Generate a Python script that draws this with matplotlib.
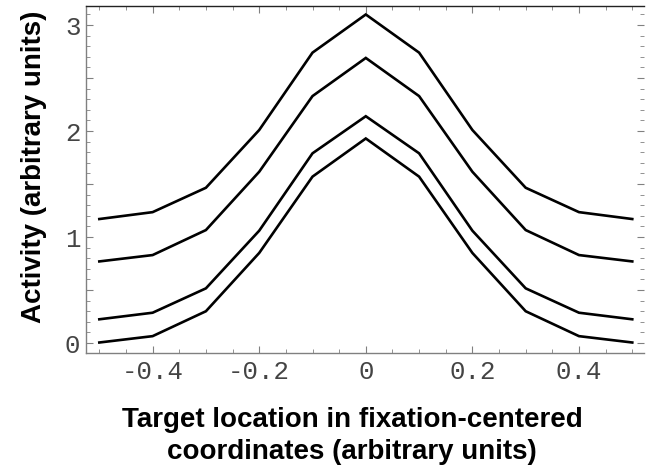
import matplotlib
matplotlib.use("Agg")
import matplotlib.pyplot as plt
from matplotlib.ticker import MultipleLocator, FuncFormatter

x = [-0.5, -0.4, -0.3, -0.2, -0.1, 0.0, 0.1, 0.2, 0.3, 0.4, 0.5]
curve1 = [1.17, 1.235, 1.465, 2.01, 2.74, 3.10, 2.74, 2.01, 1.465, 1.235, 1.17]
curve2 = [0.77, 0.83, 1.066, 1.616, 2.33, 2.69, 2.33, 1.616, 1.066, 0.83, 0.77]
curve3 = [0.224, 0.286, 0.516, 1.06, 1.79, 2.14, 1.79, 1.06, 0.516, 0.286, 0.224]
curve4 = [0.005, 0.065, 0.30, 0.85, 1.57, 1.93, 1.57, 0.85, 0.30, 0.065, 0.005]
xticks = [-0.4, -0.2, 0, 0.2, 0.4]
xticklabels = ["-0.4", "-0.2", "0", "0.2", "0.4"]
yticks = [0, 1, 2, 3]

fig = plt.figure(figsize=(6.53, 4.74), dpi=100)
ax = fig.add_axes([86/653, 1-353/474, (644-86)/653, (353-6)/474])

for c in (curve1, curve2, curve3, curve4):
    ax.plot(x, c, color="black", lw=1.9, solid_joinstyle="miter")

ax.set_xlim(-0.525, 0.522)
ax.set_ylim(-0.094, 3.18)

grey = "#808080"
ax.spines["left"].set_color(grey)
ax.spines["bottom"].set_color(grey)
ax.spines["top"].set_color("#222222")
ax.spines["right"].set_visible(False)
for s in ax.spines.values():
    s.set_linewidth(1.0)

ax.set_xticks(xticks)
ax.set_xticklabels(xticklabels)
ax.xaxis.set_minor_locator(MultipleLocator(0.05))
ax.yaxis.set_major_locator(MultipleLocator(0.5))
ax.yaxis.set_minor_locator(MultipleLocator(0.1))
ax.yaxis.set_major_formatter(FuncFormatter(lambda v, p: f"{int(round(v))}" if abs(v - round(v)) < 1e-6 and round(v) in yticks else ""))

ax.tick_params(which="both", direction="in", colors=grey, top=True, right=True,
               labelcolor="#444444", labelsize=18.5)
ax.tick_params(which="major", length=5, width=0.8)
ax.tick_params(which="minor", length=3, width=0.6)
for lab in ax.get_xticklabels() + ax.get_yticklabels():
    lab.set_fontfamily("Liberation Mono")
ax.tick_params(axis="x", pad=5)
ax.tick_params(axis="y", pad=4)

fig.text(352/653, 1-436/474, "Target location in fixation-centered\ncoordinates (arbitrary units)",
         ha="center", va="center", fontsize=20, fontweight="bold",
         family="Liberation Sans", linespacing=1.33)
fig.text(34/653, 1-167/474, "Activity (arbitrary units)", rotation=90,
         ha="center", va="center", fontsize=20, fontweight="bold",
         family="Liberation Sans")

fig.savefig("out.png", dpi=100)
